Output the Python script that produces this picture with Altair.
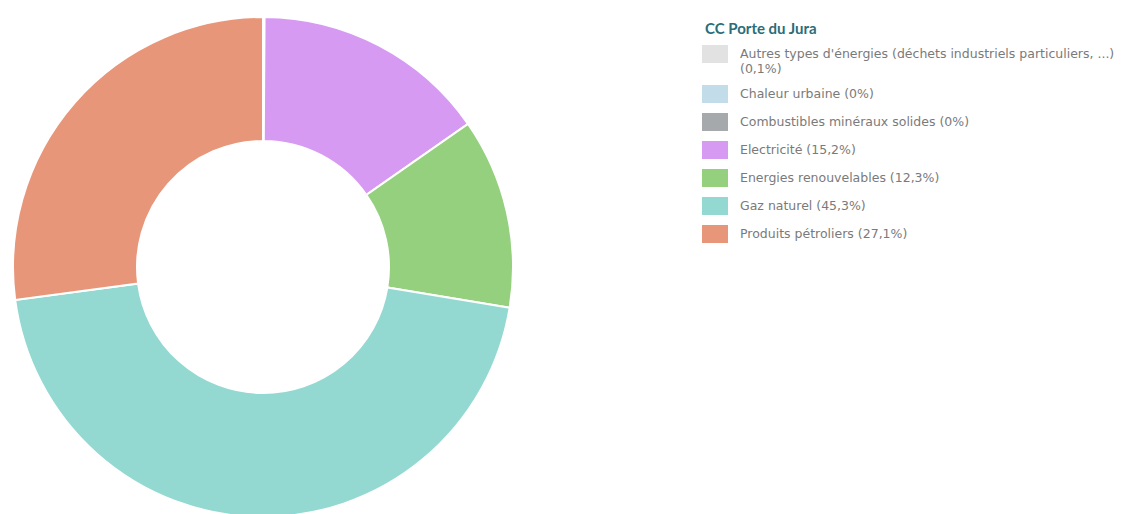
import altair as alt
import pandas as pd

categories = [
    "Autres types d'énergies (déchets industriels particuliers, ...)",
    "Chaleur urbaine",
    "Combustibles minéraux solides",
    "Electricité",
    "Energies renouvelables",
    "Gaz naturel",
    "Produits pétroliers",
]
values = [0.1, 0, 0, 15.2, 12.3, 45.3, 27.1]
colors = ["#e2e2e2", "#c3dce9", "#a6a9ab", "#d69af3", "#94d07d", "#93d9d1", "#e8967a"]


def fmt(v):
    s = ("%g" % v).replace(".", ",")
    return s + "%"


labels = []
for c, v in zip(categories, values):
    sep = "|" if len(c) > 40 else " "
    labels.append(f"{c}{sep}({fmt(v)})")

df = pd.DataFrame({"label": labels, "value": values, "order": list(range(len(values)))})

chart = (
    alt.Chart(df)
    .mark_arc(outerRadius=250, innerRadius=126, stroke="white", strokeWidth=2)
    .encode(
        theta=alt.Theta("value:Q", stack=True),
        order=alt.Order("order:Q"),
        x=alt.value(255),
        y=alt.value(259),
        color=alt.Color(
            "label:N",
            scale=alt.Scale(domain=labels, range=colors),
            sort=labels,
            legend=alt.Legend(
                title="CC Porte du Jura",
                orient="none",
                legendX=697,
                legendY=14,
                labelExpr="split(datum.label, '|')",
                symbolType="M-1.3,-0.9H1.3V0.9H-1.3Z",
                symbolSize=400,
                symbolStrokeWidth=0,
                labelLimit=383,
                labelFont="DejaVu Sans",
                labelFontSize=12.5,
                labelColor="#7a7a7a",
                labelOffset=15,
                titleFont="Lato",
                titleFontSize=15,
                titleFontWeight="bold",
                titleColor="#2b6d78",
                titlePadding=7,
                rowPadding=9,
            ),
        ),
        tooltip=["label:N", "value:Q"],
    )
    .properties(width=1110, height=498, padding=0)
    .configure_view(stroke=None)
)

chart.save("out.html", embed_options={"renderer": "svg", "actions": False})
